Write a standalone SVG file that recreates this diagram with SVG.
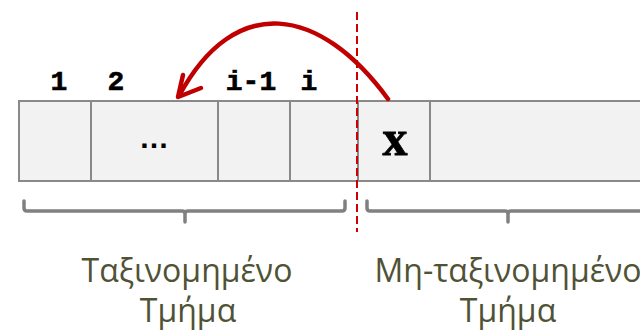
<svg xmlns="http://www.w3.org/2000/svg" width="640" height="331" viewBox="0 0 640 331">
<style>
.cell{fill:#f2f2f2;stroke:#898989;stroke-width:2}
.idx{font-family:"Liberation Mono",monospace;font-weight:bold;font-size:28px;fill:#000;text-anchor:middle;stroke:#000;stroke-width:0.6}
.brace{fill:none;stroke:#808080;stroke-width:3.5;stroke-linecap:round;stroke-linejoin:round}
.lbl{font-family:"Open Sans",sans-serif;font-size:32px;fill:#505236;text-anchor:middle}
.arrow{fill:none;stroke:#c00000;stroke-width:4.5;stroke-linecap:round;stroke-linejoin:round}
</style>
<rect width="640" height="331" fill="#fff"/>
<g id="array">
<rect class="cell" x="19" y="101" width="72" height="80"/>
<rect class="cell" x="91" y="101" width="127" height="80"/>
<rect class="cell" x="218" y="101" width="72" height="80"/>
<rect class="cell" x="290" y="101" width="68" height="80"/>
<rect class="cell" x="358" y="101" width="72" height="80"/>
<rect class="cell" x="430" y="101" width="220" height="80"/>
<text x="154" y="148" font-family="Liberation Sans,sans-serif" font-weight="bold" font-size="30" text-anchor="middle">…</text>
<text x="395" y="155" font-family="Liberation Serif,serif" font-weight="bold" font-size="50" text-anchor="middle" stroke="#000" stroke-width="0.8">x</text>
</g>
<g id="indices">
<text class="idx" x="59" y="90">1</text>
<text class="idx" x="116" y="90">2</text>
<text class="idx" x="251" y="90">i-1</text>
<text class="idx" x="309" y="90">i</text>
</g>
<g id="divider">
<line x1="357" y1="12" x2="357" y2="232" stroke="#cc0000" stroke-width="2" stroke-dasharray="8,4"/>
</g>
<g id="braces">
<path class="brace" d="M24,201 V208 Q24,211 27,211 H182 Q185,211 185,214 V222 M185,214 Q185,211 188,211 H342 Q345,211 345,208 V201"/>
<path class="brace" d="M367,201 V208 Q367,211 370,211 H505 Q508,211 508,214 V222 M508,214 Q508,211 511,211 H660"/>
</g>
<g id="labels">
<text class="lbl" x="187" y="282">Ταξινομημένο</text>
<text class="lbl" x="188" y="322">Τμήμα</text>
<text class="lbl" x="508" y="282">Μη-ταξινομημένο</text>
<text class="lbl" x="508" y="322">Τμήμα</text>
</g>
<g id="connectors">
<path class="arrow" d="M388,99 C320,6 235,-8 179,96"/>
<polyline class="arrow" points="183,75 178,97 201,88"/>
</g>
</svg>
